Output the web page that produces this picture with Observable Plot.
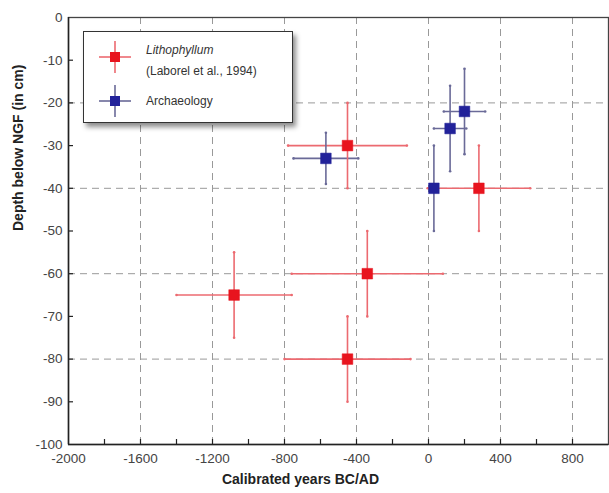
<!DOCTYPE html>
<html>
<head>
<meta charset="utf-8">
<script src="https://cdn.jsdelivr.net/npm/d3@7"></script>
<script src="https://cdn.jsdelivr.net/npm/@observablehq/plot@0.6"></script>
<style>
  body { margin: 0; background: #fff; font-family: "Liberation Sans", Arial, sans-serif; }
  #wrap { position: relative; width: 609px; height: 493px; }
  #legend {
    position: absolute; left: 83px; top: 31px; width: 208px; height: 90px;
    background: #fff; border: 1.5px solid #333;
    box-shadow: 3px 4px 5px rgba(0,0,0,0.45);
    font-family: "Liberation Sans", Arial, sans-serif; font-size: 12px; color: #333;
  }
  .lrow { position: absolute; left: 0; }
  .lrow svg { position: absolute; left: 11px; }
  .ltext { position: absolute; left: 62px; white-space: nowrap; }
</style>
</head>
<body>
<div id="wrap"></div>
<script>
// Lithophyllum (Laborel et al., 1994)
const lithoYear   = [-450, 280, -1080, -340, -450];
const lithoDepth  = [-30, -40, -65, -60, -80];
const lithoYearErr  = [330, 285, 320, 420, 350];
const lithoDepthErr = [10, 10, 10, 10, 10];

// Archaeology
const archYear   = [-570, 30, 120, 200];
const archDepth  = [-33, -40, -26, -22];
const archYearErr  = [180, 0, 90, 115];
const archDepthErr = [6, 10, 10, 10];

const xTicksMajor = [-2000, -1600, -1200, -800, -400, 0, 400, 800];
const xTicksMinor = [-1800, -1600, -1400, -1200, -1000, -800, -600, -400, -200, 0, 200, 400, 600, 800];
const yTicks = [0, -10, -20, -30, -40, -50, -60, -70, -80, -90, -100];
const yTicksInner = [-10, -20, -30, -40, -50, -60, -70, -80, -90];
const xGrid = [-1600, -1200, -800, -400, 0, 400, 800];
const yGrid = [-20, -40, -60, -80];

const seriesNames = ["Lithophyllum", "Archaeology"];
const markerColors = ["#e8141e", "#22229a"];
const barColors = ["#ec6a70", "#6a6a98"];

function rows(xs, ys, xe, ye, s) {
  return xs.map((x, i) => ({x, y: ys[i], xe: xe[i], ye: ye[i], s}));
}
const data = [
  ...rows(lithoYear, lithoDepth, lithoYearErr, lithoDepthErr, 0),
  ...rows(archYear, archDepth, archYearErr, archDepthErr, 1)
];
const hbars = data.filter(d => d.xe > 0);

const plot = Plot.plot({
  width: 609,
  height: 493,
  marginLeft: 68,
  marginRight: 1,
  marginTop: 17,
  marginBottom: 49,
  style: {fontFamily: "Liberation Sans, Arial, sans-serif", fontSize: "13px", color: "#333", background: "#fff"},
  x: {domain: [-2000, 1000]},
  y: {domain: [-100, 0]},
  marks: [
    Plot.ruleX(xGrid, {stroke: "#999", strokeDasharray: "7,5", strokeWidth: 1}),
    Plot.ruleY(yGrid, {stroke: "#999", strokeDasharray: "7,5", strokeWidth: 1}),
    Plot.frame({stroke: "#444", strokeWidth: 1.3}),
    // inward ticks
    Plot.ruleX(xTicksMinor, {y1: -100, y2: -100, insetTop: -5, stroke: "#222", strokeWidth: 1.2}),
    Plot.ruleY(yTicksInner, {x1: -2000, x2: -2000, insetRight: -5, stroke: "#222", strokeWidth: 1.2}),
    Plot.axisX({ticks: xTicksMajor, tickSize: 0, tickPadding: 9, tickFormat: d => String(d), label: null, fill: "#444", fontSize: 13.5}),
    Plot.axisY({ticks: yTicks, tickSize: 0, tickPadding: 6, tickFormat: d => String(d), label: null, fill: "#444", fontSize: 13.5}),
    Plot.ruleX([-2000], {stroke: "#222", strokeWidth: 1.5}),
    Plot.ruleY([-100], {stroke: "#222", strokeWidth: 1.5}),
    // horizontal error bars
    Plot.ruleY(hbars, {y: "y", x1: d => d.x - d.xe, x2: d => d.x + d.xe, stroke: d => barColors[d.s], strokeWidth: 1.6}),
    // vertical error bars
    Plot.ruleX(data, {x: "x", y1: d => d.y - d.ye, y2: d => d.y + d.ye, stroke: d => barColors[d.s], strokeWidth: 1.6}),
    // caps
    Plot.dot(hbars, {x: d => d.x - d.xe, y: "y", r: 1.3, fill: d => barColors[d.s], stroke: null}),
    Plot.dot(hbars, {x: d => d.x + d.xe, y: "y", r: 1.3, fill: d => barColors[d.s], stroke: null}),
    Plot.dot(data, {x: "x", y: d => d.y - d.ye, r: 1.3, fill: d => barColors[d.s], stroke: null}),
    Plot.dot(data, {x: "x", y: d => d.y + d.ye, r: 1.3, fill: d => barColors[d.s], stroke: null}),
    // markers
    Plot.dot(data, {x: "x", y: "y", symbol: "square", r: 6, fill: d => markerColors[d.s], stroke: d => markerColors[d.s], strokeOpacity: 0.5, strokeWidth: 1}),
    Plot.text(["Calibrated years BC/AD"], {frameAnchor: "bottom", dx: -38, dy: 39, fontWeight: "bold", fontSize: 14, fill: "#222"}),
    Plot.text(["Depth below NGF (in cm)"], {frameAnchor: "left", dx: -50, rotate: -90, fontWeight: "bold", fontSize: 14, fill: "#222"})
  ]
});

const wrap = document.getElementById("wrap");
wrap.appendChild(plot);

function swatch(i) {
  return `<svg width="40" height="40" viewBox="0 0 40 40">
    <line x1="4" y1="20" x2="36" y2="20" stroke="${barColors[i]}" stroke-width="1.6"/>
    <line x1="20" y1="4" x2="20" y2="36" stroke="${barColors[i]}" stroke-width="1.6"/>
    <rect x="15" y="15" width="10" height="10" fill="${markerColors[i]}"/>
  </svg>`;
}
const legend = document.createElement("div");
legend.id = "legend";
legend.innerHTML = `
  <div class="lrow" style="top:5px">${swatch(0)}</div>
  <div class="ltext" style="top:11px;font-style:italic">${seriesNames[0]}</div>
  <div class="ltext" style="top:32px">(Laborel et al., 1994)</div>
  <div class="lrow" style="top:49px">${swatch(1)}</div>
  <div class="ltext" style="top:62px">${seriesNames[1]}</div>`;
wrap.appendChild(legend);
</script>
</body>
</html>
